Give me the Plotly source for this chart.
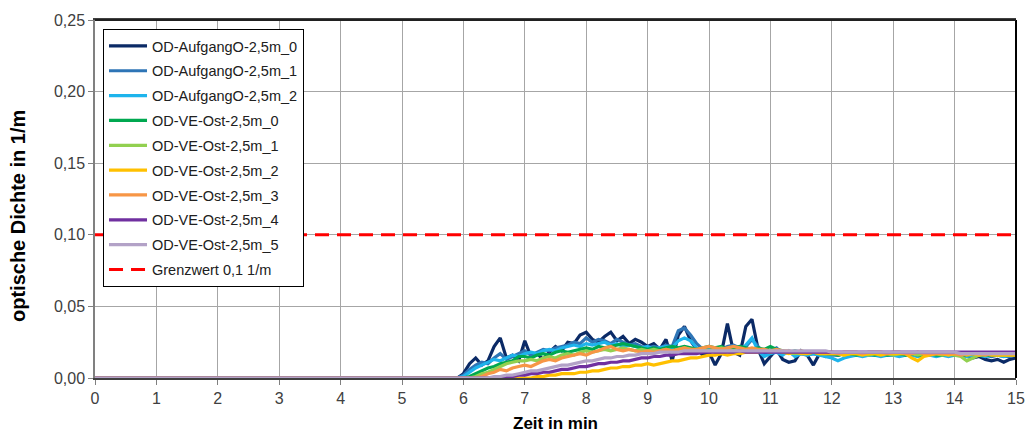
import plotly.graph_objects as go

# time axis (min): start point plus 0.1-min samples from 5.8 to 15.0
time_min = [0.0] + [round(5.8 + 0.1 * i, 1) for i in range(93)]

# optical density values in 1/1000 1/m, samples from 5.8 to 15.0 min
od_aufgang_0 = [0, 0, 3, 10, 14, 9, 12, 22, 28, 14,
                16, 12, 26, 15, 17, 13, 18, 22, 19, 25,
                24, 30, 32, 27, 25, 29, 32, 26, 29, 24,
                27, 25, 22, 24, 20, 27, 12, 30, 36, 26,
                20, 16, 18, 9, 17, 38, 18, 16, 36, 41,
                20, 10, 15, 20, 13, 11, 12, 19, 16, 9,
                17, 15, 17, 16, 17, 16, 17, 16, 16, 17,
                16, 16, 16, 16, 16, 17, 16, 16, 16, 16,
                16, 16, 16, 16, 15, 14, 15, 13, 12, 13,
                11, 13, 14]
od_aufgang_1 = [0, 0, 2, 6, 9, 11, 10, 14, 17, 13,
                15, 17, 19, 16, 18, 20, 19, 21, 22, 23,
                25, 24, 28, 25, 27, 26, 24, 27, 25, 23,
                24, 22, 21, 22, 21, 23, 22, 33, 35, 30,
                24, 20, 22, 19, 20, 22, 23, 21, 22, 27,
                22, 17, 19, 21, 17, 18, 16, 17, 16, 17,
                16, 17, 16, 16, 17, 16, 16, 17, 16, 16,
                16, 16, 17, 16, 16, 16, 16, 17, 16, 16,
                16, 16, 16, 17, 16, 16, 16, 16, 15, 16,
                15, 15, 16]
od_aufgang_2 = [0, 0, 1, 4, 7, 9, 11, 13, 12, 14,
                16, 15, 17, 18, 17, 19, 20, 19, 21, 22,
                23, 22, 24, 23, 24, 25, 23, 24, 22, 23,
                22, 21, 22, 20, 21, 22, 21, 26, 28, 26,
                21, 19, 20, 18, 19, 20, 19, 18, 23, 28,
                19, 15, 17, 18, 16, 19, 15, 17, 16, 17,
                16, 15, 14, 12, 14, 15, 16, 15, 16, 16,
                15, 16, 16, 15, 16, 16, 15, 16, 16, 15,
                16, 15, 16, 16, 15, 16, 16, 15, 16, 16,
                15, 16, 16]
od_ve_ost_0 = [0, 0, 0, 1, 3, 5, 7, 8, 10, 11,
               12, 15, 15, 14, 16, 17, 16, 18, 19, 18,
               19, 20, 21, 20, 22, 21, 22, 23, 24, 23,
               22, 21, 20, 21, 20, 21, 22, 21, 22, 21,
               20, 21, 22, 21, 22, 20, 21, 22, 21, 20,
               21, 20, 22, 20, 19, 18, 19, 18, 17, 18,
               17, 17, 17, 16, 17, 17, 16, 17, 17, 16,
               17, 16, 17, 17, 16, 17, 16, 16, 17, 16,
               16, 17, 16, 16, 16, 17, 16, 16, 16, 16,
               16, 16, 16]
od_ve_ost_1 = [0, 0, 0, 0, 1, 3, 4, 6, 8, 10,
               11, 12, 12, 13, 12, 14, 15, 14, 16, 17,
               16, 18, 19, 18, 19, 20, 19, 20, 21, 20,
               19, 20, 19, 20, 19, 20, 19, 20, 21, 20,
               19, 20, 19, 20, 21, 20, 19, 20, 19, 20,
               19, 19, 18, 19, 18, 18, 17, 18, 17, 18,
               17, 17, 17, 17, 16, 17, 17, 17, 16, 17,
               17, 17, 16, 17, 17, 17, 16, 17, 17, 17,
               16, 17, 16, 15, 12, 14, 16, 16, 17, 16,
               16, 16, 16]
od_ve_ost_2 = [0, 0, 0, 0, 0, 0, 0, 0, 0, 0,
               0, 0, 0, 0, 1, 1, 2, 2, 3, 3,
               3, 4, 4, 5, 5, 6, 7, 7, 8, 8,
               9, 9, 10, 9, 10, 11, 12, 12, 13, 14,
               14, 15, 16, 16, 17, 16, 17, 17, 18, 18,
               18, 19, 18, 19, 18, 17, 18, 17, 17, 18,
               17, 17, 17, 17, 16, 17, 17, 16, 17, 17,
               16, 17, 17, 17, 17, 14, 12, 15, 16, 17,
               17, 16, 17, 17, 16, 17, 16, 17, 16, 16,
               16, 16, 16]
od_ve_ost_3 = [0, 0, 0, 0, 0, 1, 3, 4, 6, 5,
               7, 8, 9, 8, 10, 12, 13, 12, 14, 15,
               16, 17, 16, 18, 19, 21, 22, 20, 19, 20,
               19, 18, 19, 18, 19, 20, 19, 20, 21, 20,
               20, 21, 22, 21, 20, 21, 22, 21, 20, 21,
               20, 20, 19, 20, 19, 19, 18, 19, 18, 18,
               18, 18, 18, 17, 18, 18, 18, 17, 18, 18,
               18, 17, 18, 18, 17, 17, 18, 17, 17, 17,
               17, 17, 17, 16, 17, 17, 17, 16, 17, 17,
               17, 17, 17]
od_ve_ost_4 = [0, 0, 0, 0, 0, 0, 0, 0, 0, 1,
               1, 2, 2, 3, 3, 4, 4, 5, 6, 6,
               7, 8, 8, 9, 10, 10, 11, 11, 12, 12,
               13, 14, 14, 15, 15, 16, 16, 17, 17, 17,
               17, 18, 18, 18, 18, 18, 18, 19, 18, 18,
               18, 18, 18, 18, 18, 18, 18, 18, 18, 18,
               18, 18, 18, 18, 18, 18, 18, 18, 18, 18,
               18, 18, 18, 18, 18, 18, 18, 18, 18, 18,
               18, 18, 18, 18, 18, 18, 18, 18, 18, 18,
               18, 18, 18]
od_ve_ost_5 = [0, 0, 0, 0, 0, 0, 0, 1, 1, 2,
               2, 3, 4, 5, 5, 6, 7, 8, 9, 9,
               10, 11, 12, 12, 13, 14, 14, 15, 15, 16,
               16, 17, 17, 17, 18, 18, 18, 18, 19, 19,
               19, 19, 19, 19, 19, 19, 19, 19, 19, 19,
               19, 19, 19, 19, 19, 19, 19, 19, 19, 19,
               19, 19, 18, 18, 18, 18, 18, 18, 18, 18,
               18, 18, 18, 18, 18, 18, 18, 18, 18, 18,
               18, 18, 18, 17, 17, 17, 17, 17, 17, 17,
               17, 17, 17]

series_names = ["OD-AufgangO-2,5m_0", "OD-AufgangO-2,5m_1", "OD-AufgangO-2,5m_2",
                "OD-VE-Ost-2,5m_0", "OD-VE-Ost-2,5m_1", "OD-VE-Ost-2,5m_2",
                "OD-VE-Ost-2,5m_3", "OD-VE-Ost-2,5m_4", "OD-VE-Ost-2,5m_5"]
series_values = [od_aufgang_0, od_aufgang_1, od_aufgang_2,
                 od_ve_ost_0, od_ve_ost_1, od_ve_ost_2,
                 od_ve_ost_3, od_ve_ost_4, od_ve_ost_5]
series_colors = ["#0B2A66", "#2E75B6", "#1EB4EC", "#00A850", "#92D050",
                 "#FFC000", "#F79646", "#7030A0", "#B3A2C7"]

limit_name = "Grenzwert 0,1 1/m"
limit_x = [0, 15]
limit_y = [0.1, 0.1]

x_ticks = list(range(0, 16))
y_ticks = [0.0, 0.05, 0.10, 0.15, 0.20, 0.25]

FONT = "Arial, 'Liberation Sans', sans-serif"

fig = go.Figure()
for i, (name, vals, col) in enumerate(zip(series_names, series_values, series_colors)):
    y = [0.0] + [v / 1000 for v in vals]
    fig.add_trace(go.Scatter(x=time_min, y=y, mode="lines", name=name,
                             legendgroup=f"g{i}",
                             line=dict(color=col, width=3.2)))
fig.add_trace(go.Scatter(x=limit_x, y=limit_y, mode="lines", name=limit_name,
                         legendgroup="g9",
                         line=dict(color="#FF0000", width=3, dash="14px,8px")))

fig.update_layout(
    width=1034, height=434,
    margin=dict(l=87, r=26, t=12, b=64),
    paper_bgcolor="white", plot_bgcolor="white",
    separators=",.",
    font=dict(family=FONT, color="#404040"),
    showlegend=True,
    legend=dict(x=0.0087, y=0.975, xanchor="left", yanchor="top",
                bgcolor="white", bordercolor="#000000", borderwidth=1,
                font=dict(size=14.5, color="#202020"),
                itemwidth=38,
                tracegroupgap=3, traceorder="grouped"),
    xaxis=dict(range=[0, 15], tickvals=x_ticks, ticktext=[str(v) for v in x_ticks],
               showgrid=True, gridcolor="#A6A6A6", gridwidth=1,
               showline=True, linecolor="#404040", linewidth=1.5, mirror=True,
               ticks="outside", ticklen=5, tickcolor="#808080",
               tickfont=dict(size=16, color="#404040"),
               automargin=False,
               title=dict(text="<b>Zeit in min</b>", font=dict(size=17, color="#000000"),
                          standoff=11),
               zeroline=False),
    yaxis=dict(range=[0, 0.25], tickvals=y_ticks, tickformat=".2f",
               showgrid=True, gridcolor="#A6A6A6", gridwidth=1,
               showline=True, linecolor="#808080", linewidth=1.5,
               ticks="outside", ticklen=5, tickcolor="#808080",
               tickfont=dict(size=16, color="#404040"),
               automargin=False,
               zeroline=False),
)
# y-axis title placed as a rotated text (slightly below the axis centre, as in the original)
fig.add_annotation(text="<b>optische Dichte in 1/m</b>", xref="paper", yref="paper",
                   x=0, y=0.4525, xshift=-77, xanchor="center", yanchor="middle",
                   textangle=-90, showarrow=False,
                   font=dict(family=FONT, size=20, color="#000000"))
# dark frame on top and right edges of the plot area
fig.add_shape(type="line", xref="paper", yref="paper", x0=1, x1=1, y0=0, y1=1,
              line=dict(color="#000000", width=2))
fig.add_shape(type="line", xref="paper", yref="paper", x0=0, x1=1, y0=1, y1=1,
              line=dict(color="#202020", width=2))

fig.write_html("out.html")
